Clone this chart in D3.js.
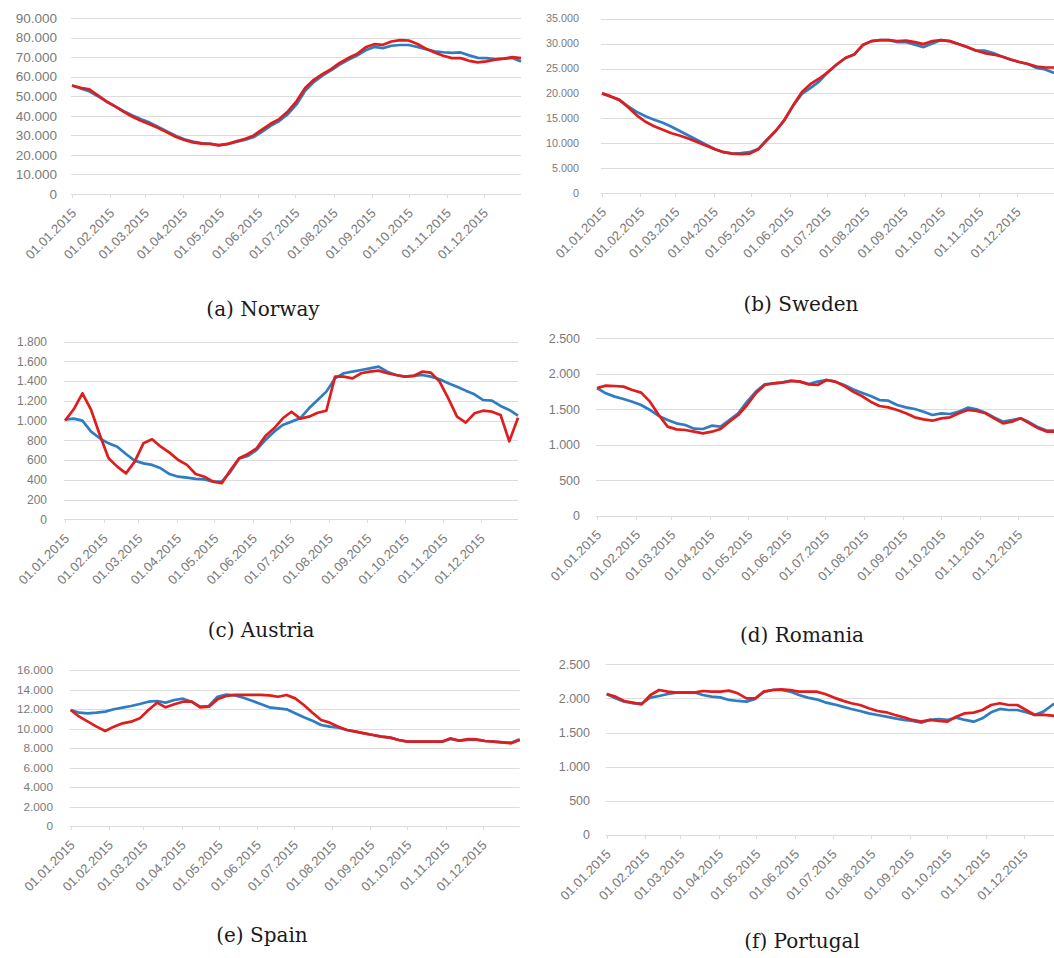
<!DOCTYPE html>
<html>
<head>
<meta charset="utf-8">
<script src="https://cdn.jsdelivr.net/npm/d3@7"></script>
<style>
  body { margin: 0; background: #fff; }
  svg { display: block; }
  .ytick, .xtick { font-family: "Liberation Sans", Arial, sans-serif; fill: #7a7a7a; }
  .caption { font-family: "DejaVu Serif", "Liberation Serif", serif; font-size: 20px; fill: #1a1a1a; }
</style>
</head>
<body>
<svg id="chart" width="1054" height="958"></svg>
<script>
// day offsets from 01.01.2015 at which values were read (weekly)
const days = [0, 7, 14, 21, 28, 35, 42, 49, 56, 63, 70, 77, 84, 91, 98, 105, 112, 119, 126, 133,
  140, 147, 154, 161, 168, 175, 182, 189, 196, 203, 210, 217, 224, 231, 238, 245, 252, 259, 266, 273,
  280, 287, 294, 301, 308, 315, 322, 329, 336, 343, 350, 357, 364]

const norwayBlue = [55500, 54000, 52500, 50000, 47200, 44800, 42400, 40200, 38200, 36500, 34300, 32000, 29800, 28000, 26800, 26000, 25700, 25000, 25500, 26600,
  27600, 29000, 31800, 34800, 37300, 40800, 45800, 52800, 57200, 60500, 63200, 66200, 68600, 70800, 73500, 75200, 74600, 75800, 76200, 76200,
  75200, 74000, 73000, 72500, 72200, 72400, 70900, 69600, 69500, 69000, 69200, 69600, 67800]
const norwayRed = [55500, 54300, 53500, 50400, 47400, 44800, 42000, 39500, 37500, 35700, 33700, 31500, 29300, 27600, 26400, 25800, 25600, 24900, 25600, 26900,
  28100, 29800, 32900, 35900, 38300, 42200, 47400, 54200, 58400, 61300, 63900, 67000, 69500, 71600, 75000, 76600, 76300, 78000, 78700, 78500,
  76700, 74300, 72400, 70700, 69500, 69500, 68100, 67300, 67800, 68700, 69200, 70000, 69500]

const swedenBlue = [20000, 19400, 18700, 17400, 16300, 15400, 14700, 14100, 13300, 12400, 11500, 10600, 9700, 8800, 8200, 7900, 8000, 8200, 8900, 10700,
  12500, 14700, 17600, 19900, 21100, 22400, 24300, 25800, 27100, 27800, 29700, 30500, 30700, 30700, 30300, 30300, 29800, 29300, 30000, 30700,
  30500, 29900, 29300, 28600, 28600, 28100, 27400, 26800, 26300, 25900, 25100, 24800, 24100]
const swedenRed = [20000, 19400, 18700, 17200, 15600, 14300, 13400, 12700, 12000, 11500, 10900, 10200, 9500, 8800, 8200, 7900, 7800, 7900, 8800, 10700,
  12500, 14700, 17600, 20300, 21900, 23000, 24300, 25800, 27100, 27800, 29700, 30500, 30700, 30700, 30500, 30600, 30300, 29900, 30500, 30700,
  30500, 29900, 29300, 28600, 28100, 27800, 27400, 26800, 26300, 25900, 25400, 25200, 25200]

const austriaBlue = [1010, 1020, 1000, 888, 821, 770, 736, 662, 595, 567, 551, 517, 459, 432, 422, 409, 405, 382, 382, 483,
  618, 642, 703, 804, 888, 956, 990, 1024, 1125, 1209, 1294, 1429, 1480, 1496, 1513, 1530, 1547, 1496, 1463, 1446,
  1453, 1463, 1446, 1419, 1378, 1344, 1304, 1267, 1209, 1203, 1149, 1108, 1050]
const austriaRed = [1000, 1115, 1277, 1108, 855, 618, 534, 466, 584, 770, 811, 736, 676, 601, 551, 459, 432, 382, 365, 500,
  618, 662, 720, 845, 922, 1024, 1090, 1020, 1040, 1080, 1100, 1446, 1446, 1429, 1480, 1496, 1507, 1480, 1463, 1446,
  1453, 1496, 1486, 1395, 1226, 1040, 980, 1074, 1101, 1091, 1057, 790, 1030]

const romaniaBlue = [1800, 1725, 1678, 1645, 1607, 1560, 1490, 1405, 1349, 1302, 1278, 1227, 1222, 1269, 1255, 1349, 1443, 1607, 1748, 1851,
  1866, 1880, 1903, 1889, 1856, 1889, 1913, 1889, 1842, 1781, 1734, 1687, 1630, 1621, 1560, 1527, 1504, 1466, 1419, 1443,
  1433, 1466, 1523, 1499, 1452, 1386, 1325, 1349, 1372, 1316, 1245, 1198, 1198]
const romaniaRed = [1800, 1833, 1828, 1819, 1772, 1734, 1607, 1419, 1255, 1217, 1208, 1184, 1161, 1184, 1222, 1325, 1419, 1560, 1725, 1842,
  1866, 1875, 1898, 1889, 1851, 1842, 1913, 1889, 1828, 1748, 1687, 1607, 1546, 1527, 1490, 1443, 1386, 1358, 1339, 1372,
  1386, 1443, 1490, 1476, 1443, 1372, 1302, 1325, 1372, 1302, 1231, 1184, 1184]

const spainBlue = [11900, 11620, 11560, 11620, 11730, 11970, 12140, 12310, 12510, 12750, 12820, 12650, 12920, 13060, 12750, 12240, 12310, 13260, 13470, 13400,
  13160, 12850, 12510, 12170, 12070, 11970, 11560, 11150, 10800, 10360, 10190, 10090, 9850, 9680, 9500, 9330, 9160, 9060, 8820, 8650,
  8650, 8650, 8650, 8650, 8920, 8750, 8820, 8820, 8720, 8650, 8580, 8550, 8890]
const spainRed = [11900, 11210, 10700, 10190, 9740, 10190, 10530, 10700, 11040, 11900, 12650, 12170, 12480, 12750, 12750, 12170, 12240, 12990, 13330, 13440,
  13440, 13440, 13440, 13400, 13260, 13440, 13090, 12410, 11620, 10870, 10600, 10190, 9850, 9680, 9500, 9330, 9160, 9060, 8820, 8650,
  8650, 8650, 8650, 8650, 8990, 8750, 8920, 8890, 8720, 8650, 8580, 8480, 8820]

const portugalBlue = [2065, 2002, 1953, 1929, 1929, 2012, 2036, 2065, 2085, 2085, 2090, 2051, 2026, 2016, 1978, 1963, 1953, 1992, 2100, 2124,
  2124, 2100, 2051, 2012, 1987, 1943, 1914, 1880, 1846, 1816, 1782, 1758, 1733, 1709, 1685, 1670, 1646, 1685, 1699, 1685,
  1719, 1685, 1660, 1709, 1797, 1846, 1831, 1831, 1797, 1758, 1807, 1904, 1978]
const portugalRed = [2065, 2026, 1963, 1938, 1914, 2051, 2124, 2100, 2085, 2090, 2085, 2109, 2100, 2100, 2114, 2075, 2002, 2002, 2100, 2124,
  2134, 2124, 2100, 2100, 2100, 2065, 2012, 1968, 1929, 1904, 1856, 1816, 1797, 1758, 1724, 1685, 1660, 1685, 1670, 1660,
  1733, 1782, 1792, 1831, 1904, 1929, 1904, 1904, 1831, 1758, 1758, 1748, 1733]

// y axis tick values per panel
const norwayTicks = [0, 10000, 20000, 30000, 40000, 50000, 60000, 70000, 80000, 90000]
const swedenTicks = [0, 5000, 10000, 15000, 20000, 25000, 30000, 35000]
const austriaTicks = [0, 200, 400, 600, 800, 1000, 1200, 1400, 1600, 1800]
const romaniaTicks = [0, 500, 1000, 1500, 2000, 2500]
const spainTicks = [0, 2000, 4000, 6000, 8000, 10000, 12000, 14000, 16000]
const portugalTicks = [0, 500, 1000, 1500, 2000, 2500]

const captions = ['(a) Norway', '(b) Sweden', '(c) Austria', '(d) Romania', '(e) Spain', '(f) Portugal']

const BLUE = '#2f7cc3'
const RED = '#df1d1d'
const GRID = '#dcdcdc'

// layout of each small chart (pixel frame of its plot area)
const panels = [
  { blue: norwayBlue, red: norwayRed, ticks: norwayTicks, x0: 72, x1: 521, yTop: 18, yBot: 194, labelX: 57, yFont: 13.5, cap: [263, 316] },
  { blue: swedenBlue, red: swedenRed, ticks: swedenTicks, x0: 602, x1: 1054, yTop: 18.7, yBot: 193, labelX: 579, yFont: 10.8, cap: [801, 311] },
  { blue: austriaBlue, red: austriaRed, ticks: austriaTicks, x0: 65, x1: 518, yTop: 341.7, yBot: 519.3, labelX: 47, yFont: 12, cap: [261, 637] },
  { blue: romaniaBlue, red: romaniaRed, ticks: romaniaTicks, x0: 597, x1: 1056, yTop: 338.3, yBot: 515.7, labelX: 580, yFont: 12.5, cap: [802, 642] },
  { blue: spainBlue, red: spainRed, ticks: spainTicks, x0: 70.7, x1: 519.7, yTop: 670, yBot: 826, labelX: 53, yFont: 11.8, cap: [262, 942] },
  { blue: portugalBlue, red: portugalRed, ticks: portugalTicks, x0: 606.7, x1: 1061, yTop: 664.3, yBot: 835, labelX: 590, yFont: 12.5, cap: [802, 948] },
]

const numFmt = d3.formatLocale({ decimal: ',', thousands: '.', grouping: [3], currency: ['', ''] }).format(',d')
const dateFmt = d3.timeFormat('%d.%m.%Y')
const toDate = d => new Date(2015, 0, 1 + d)
const dateDomain = [new Date(2015, 0, 1), new Date(2015, 11, 31)]
const months = d3.timeMonth.range(new Date(2015, 0, 1), new Date(2016, 0, 1))

const svg = d3.select('#chart')

panels.forEach((p, i) => {
  const x = d3.scaleTime().domain(dateDomain).range([p.x0, p.x1])
  const y = d3.scaleLinear().domain([0, d3.max(p.ticks)]).range([p.yBot, p.yTop])
  const g = svg.append('g').attr('class', 'panel')

  // horizontal grid
  g.append('g')
    .selectAll('line')
    .data(p.ticks)
    .join('line')
    .attr('x1', p.x0 - 1)
    .attr('x2', p.x1)
    .attr('y1', d => Math.round(y(d)) + 0.5)
    .attr('y2', d => Math.round(y(d)) + 0.5)
    .attr('stroke', GRID)
    .attr('stroke-width', 1)

  // small tick marks on the base line
  g.append('g')
    .selectAll('line')
    .data(months)
    .join('line')
    .attr('x1', d => Math.round(x(d)) + 0.5)
    .attr('x2', d => Math.round(x(d)) + 0.5)
    .attr('y1', Math.round(p.yBot))
    .attr('y2', Math.round(p.yBot) + 4)
    .attr('stroke', GRID)

  // y labels
  g.append('g')
    .selectAll('text')
    .data(p.ticks)
    .join('text')
    .attr('class', 'ytick')
    .attr('x', p.labelX)
    .attr('y', d => y(d))
    .attr('dy', '0.35em')
    .attr('text-anchor', 'end')
    .style('font-size', p.yFont + 'px')
    .text(d => numFmt(d))

  // x labels, rotated
  g.append('g')
    .selectAll('text')
    .data(months)
    .join('text')
    .attr('class', 'xtick')
    .attr('text-anchor', 'end')
    .style('font-size', '13px')
    .attr('transform', d => `translate(${x(d) + 5}, ${p.yBot + 20}) rotate(-45)`)
    .text(d => dateFmt(d))

  const line = d3.line()
    .x((v, k) => x(toDate(days[k])))
    .y(v => y(v))

  g.append('path')
    .datum(p.blue)
    .attr('fill', 'none')
    .attr('stroke', BLUE)
    .attr('stroke-width', 2.7)
    .attr('stroke-linejoin', 'round')
    .attr('d', line)

  g.append('path')
    .datum(p.red)
    .attr('fill', 'none')
    .attr('stroke', RED)
    .attr('stroke-width', 2.7)
    .attr('stroke-linejoin', 'round')
    .attr('d', line)

  g.append('text')
    .attr('class', 'caption')
    .attr('x', p.cap[0])
    .attr('y', p.cap[1])
    .attr('text-anchor', 'middle')
    .text(captions[i])
})
</script>
</body>
</html>
